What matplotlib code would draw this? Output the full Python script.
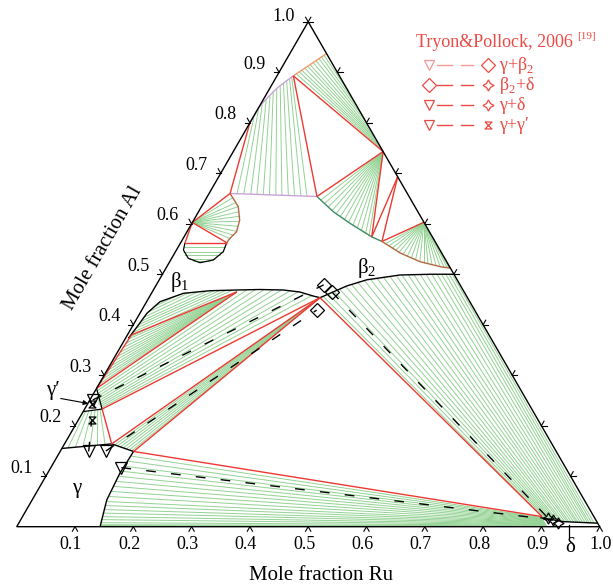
import numpy as np
import matplotlib
matplotlib.use('Agg')
import matplotlib.pyplot as plt

plt.rcParams['font.family'] = ['Liberation Serif', 'DejaVu Serif']
plt.rcParams['mathtext.fontset'] = 'custom'
plt.rcParams['mathtext.rm'] = 'Liberation Serif'

# all compositions as (x_Ru, x_Al)
# --- Al-rich corner
al_purple_curve = [(0.0, 0.800), (0.0, 0.830), (0.005, 0.849), (0.012, 0.868), (0.020, 0.881), (0.028, 0.893)]
al_purple_base = [(0.036, 0.660), (0.188, 0.654)]
al_orange = [(0.028, 0.893), (0.063, 0.937)]
al_tie_top = [(0.001, 0.812), (0.002, 0.825), (0.003, 0.836), (0.005, 0.846), (0.007, 0.855), (0.009, 0.862),
              (0.012, 0.868), (0.015, 0.874), (0.018, 0.879), (0.021, 0.884), (0.024, 0.888), (0.026, 0.891)]
al_tie_bot = [(0.048, 0.660), (0.060, 0.659), (0.072, 0.659), (0.083, 0.658), (0.094, 0.658), (0.105, 0.657),
              (0.116, 0.657), (0.127, 0.656), (0.138, 0.656), (0.149, 0.655), (0.160, 0.655), (0.171, 0.654)]
orange_ties = [(0.031, 0.897), (0.034, 0.901), (0.037, 0.904), (0.040, 0.908), (0.043, 0.912), (0.046, 0.915),
               (0.049, 0.919), (0.052, 0.923), (0.055, 0.927), (0.058, 0.930), (0.060, 0.934)]
edge_ties_al = [0.748, 0.752, 0.757, 0.762, 0.768, 0.775, 0.785, 0.800, 0.815, 0.835, 0.860]

# --- RuAl side, upper part
dkgreen_curve = [(0.188, 0.654), (0.231, 0.624), (0.271, 0.601), (0.322, 0.574), (0.344, 0.565)]
brown_curve = [(0.344, 0.565), (0.387, 0.542), (0.429, 0.525), (0.469, 0.515), (0.488, 0.512)]
fan_a_anchor = (0.257, 0.743)
fan_a_ends = [(0.198, 0.647), (0.208, 0.640), (0.218, 0.633), (0.228, 0.626), (0.238, 0.620), (0.248, 0.614),
              (0.258, 0.608), (0.268, 0.603), (0.278, 0.598), (0.288, 0.593), (0.298, 0.587), (0.308, 0.581),
              (0.316, 0.577)]
fan_b_anchor = (0.397, 0.603)
fan_b_ends = [(0.352, 0.560), (0.360, 0.556), (0.368, 0.551), (0.376, 0.547), (0.384, 0.543), (0.393, 0.539),
              (0.402, 0.535), (0.411, 0.532), (0.420, 0.528), (0.429, 0.525), (0.437, 0.523), (0.445, 0.521),
              (0.453, 0.519), (0.461, 0.517), (0.469, 0.515), (0.476, 0.514), (0.482, 0.513)]
edge_b_al = [0.590, 0.575, 0.560, 0.545, 0.530]

# --- small beta1 blob near 0.6
blob_brown = [(0.036, 0.660), (0.063, 0.634), (0.079, 0.607), (0.085, 0.584), (0.080, 0.571), (0.079, 0.5625)]
blob_black = [(0.0075, 0.5625), (0.012, 0.548), (0.0285, 0.5316), (0.053, 0.5229), (0.073, 0.5282),
              (0.082, 0.5447), (0.079, 0.5625)]
blob_anchor = (0.0, 0.6025)
blob_fan = [(0.045, 0.652), (0.055, 0.642), (0.063, 0.634), (0.070, 0.624), (0.076, 0.615), (0.080, 0.605),
            (0.083, 0.595), (0.085, 0.585), (0.084, 0.577), (0.082, 0.570)]
blob_tie_l = [(0.010, 0.553), (0.013, 0.545), (0.018, 0.538), (0.030, 0.531), (0.040, 0.526)]
blob_tie_r = [(0.081, 0.553), (0.082, 0.545), (0.080, 0.538), (0.074, 0.531), (0.068, 0.526)]

# --- beta boundary (beta1 ... beta2)
beta_curve = [(0.005, 0.373), (0.009, 0.3995), (0.012, 0.4227), (0.023, 0.4456), (0.055, 0.4623), (0.098, 0.4674),
              (0.143, 0.4688), (0.182, 0.4698), (0.223, 0.4688), (0.2535, 0.4648), (0.280, 0.4569),
              (0.2935, 0.4536), (0.306, 0.462), (0.328, 0.477), (0.356, 0.489), (0.408, 0.4985),
              (0.459, 0.500), (0.500, 0.500)]
lens_l = [(0.006, 0.376), (0.007, 0.385), (0.008, 0.393), (0.009, 0.400), (0.010, 0.407), (0.011, 0.415),
          (0.013, 0.425), (0.017, 0.435)]
lens_r = [(0.135, 0.468), (0.125, 0.468), (0.115, 0.468), (0.104, 0.467), (0.092, 0.466), (0.078, 0.465),
          (0.063, 0.463), (0.045, 0.457)]
fan_u_anchor = (0.145, 0.465)
fan_u_ends = [(0.001, 0.283), (0.001, 0.292), (0.002, 0.301), (0.002, 0.310), (0.003, 0.319), (0.003, 0.328),
              (0.004, 0.337), (0.005, 0.346), (0.005, 0.355), (0.006, 0.364), (0.006, 0.372)]
gp_b_l = [(0.003, 0.268), (0.006, 0.262), (0.009, 0.257), (0.012, 0.252), (0.015, 0.248), (0.018, 0.244),
          (0.021, 0.241), (0.024, 0.238), (0.027, 0.235)]
gp_b_r = [(0.160, 0.469), (0.175, 0.470), (0.190, 0.470), (0.205, 0.469), (0.220, 0.469), (0.235, 0.467),
          (0.250, 0.465), (0.265, 0.462), (0.278, 0.458)]

# --- gamma / gamma' corner
gamma_top = [(0.0, 0.155), (0.081, 0.164), (0.126, 0.149)]
gamma_right = [(0.126, 0.149), (0.124, 0.106), (0.128, 0.053), (0.143, 0.0)]
gp_region = [(0.0, 0.228), (0.030, 0.233), (0.0, 0.274)]
ggp_bot = [(0.010, 0.156), (0.022, 0.157), (0.034, 0.159), (0.046, 0.160), (0.058, 0.161), (0.070, 0.163)]
ggp_top = [(0.004, 0.229), (0.009, 0.230), (0.014, 0.230), (0.019, 0.231), (0.023, 0.232), (0.027, 0.232)]
gb_fan = [(0.087, 0.162), (0.093, 0.160), (0.099, 0.158), (0.105, 0.156), (0.111, 0.154), (0.117, 0.152),
          (0.122, 0.150)]

# --- delta corner
delta_curve = [(0.889, 0.018), (0.933, 0.010), (0.993, 0.007)]
bd_start = [(0.298, 0.456), (0.304, 0.461), (0.311, 0.466), (0.318, 0.471), (0.326, 0.476), (0.334, 0.480),
            (0.343, 0.484), (0.352, 0.488), (0.362, 0.490), (0.372, 0.492), (0.382, 0.494), (0.392, 0.496),
            (0.402, 0.498), (0.412, 0.498), (0.422, 0.499), (0.432, 0.499), (0.442, 0.500), (0.452, 0.500),
            (0.462, 0.500), (0.471, 0.500), (0.479, 0.500), (0.486, 0.500), (0.492, 0.500), (0.497, 0.500)]
bd_end = [(0.895, 0.018), (0.899, 0.017), (0.903, 0.016), (0.907, 0.015), (0.911, 0.014), (0.915, 0.013),
          (0.919, 0.012), (0.923, 0.011), (0.927, 0.011), (0.931, 0.010), (0.935, 0.010), (0.939, 0.010),
          (0.943, 0.009), (0.947, 0.009), (0.951, 0.009), (0.955, 0.009), (0.959, 0.008), (0.963, 0.008),
          (0.967, 0.008), (0.971, 0.008), (0.975, 0.008), (0.979, 0.007), (0.983, 0.007), (0.987, 0.007)]
gd_start = [(0.125, 0.140), (0.125, 0.130), (0.124, 0.120), (0.124, 0.110), (0.124, 0.100), (0.125, 0.090),
            (0.126, 0.080), (0.126, 0.070), (0.127, 0.060), (0.128, 0.050), (0.130, 0.042), (0.132, 0.034),
            (0.134, 0.027), (0.136, 0.020), (0.138, 0.014), (0.140, 0.008), (0.141, 0.004), (0.142, 0.002),
            (0.1425, 0.001)]
gd_end = [(0.892, 0.018), (0.893, 0.017), (0.894, 0.016), (0.895, 0.015), (0.896, 0.014), (0.897, 0.013),
          (0.898, 0.012), (0.899, 0.011), (0.900, 0.010), (0.901, 0.009), (0.902, 0.008), (0.903, 0.007),
          (0.904, 0.006), (0.905, 0.005), (0.906, 0.004), (0.907, 0.003), (0.908, 0.002), (0.909, 0.001),
          (0.910, 0.0005)]

# key corners of tie triangles
J = (0.2935, 0.4536)
D = (0.891, 0.020)
G = (0.126, 0.149)
red_segments = [
    [(0.0, 0.800), (0.036, 0.660)], [(0.028, 0.893), (0.188, 0.654)], [(0.028, 0.893), (0.257, 0.743)],
    [(0.257, 0.743), (0.188, 0.654)], [(0.257, 0.743), (0.322, 0.574)], [(0.307, 0.693), (0.322, 0.574)],
    [(0.307, 0.693), (0.344, 0.565)], [(0.397, 0.603), (0.344, 0.565)],
    [(0.0, 0.6025), (0.036, 0.660)], [(0.0, 0.6025), (0.079, 0.5625)], [(0.0, 0.6025), (0.0075, 0.5625)],
    [(0.0075, 0.5625), (0.079, 0.5625)],
    [(0.007, 0.380), (0.145, 0.465)], [(0.0, 0.274), (0.145, 0.465)], [(0.007, 0.380), (0.0, 0.274)],
    [(0.030, 0.233), J], [(0.030, 0.233), (0.081, 0.164)], [(0.081, 0.164), J],
    [G, J], [G, D], [J, D],
]

# Tryon & Pollock measured tie lines
tri_pts = [(0.005, 0.251), (0.078, 0.150), (0.121, 0.117), (0.049, 0.149)]
dia_pts = [(0.287, 0.479), (0.300, 0.429), (0.308, 0.465)]
star_pts = [(0.9035, 0.0166), (0.914, 0.0133), (0.925, 0.0079)]
hg_pts = [(0.008, 0.244), (0.023, 0.211)]
exp_ties = [[(0.005, 0.251), (0.287, 0.479)], [(0.078, 0.150), (0.300, 0.429)],
            [(0.308, 0.465), (0.9035, 0.0166)], [(0.121, 0.117), (0.914, 0.0133)],
            [(0.049, 0.149), (0.023, 0.211)]]

ticks = [0.1, 0.2, 0.3, 0.4, 0.5, 0.6, 0.7, 0.8, 0.9, 1.0]

S3 = np.sqrt(3) / 2
GREEN = '#93d293'
RED = '#ec3a32'


def xy(pts):
    p = np.asarray(pts, dtype=float).reshape(-1, 2)
    return p[:, 0] + p[:, 1] / 2, p[:, 1] * S3


def px(x, y):
    return (x - 16.7) / 583, (526.7 - y) / 583


def line(pts, **kw):
    x, y = xy(pts)
    ax.plot(x, y, solid_capstyle='butt', **kw)


fig = plt.figure(figsize=(6.13, 5.87), dpi=100)
ax = fig.add_axes([0, 0, 1, 1])
ax.set_xlim(-16.7 / 583, (613 - 16.7) / 583)
ax.set_ylim(-(587 - 526.7) / 583, 526.7 / 583)
ax.axis('off')

gkw = dict(color=GREEN, lw=0.7, zorder=1)
for s, e in zip(al_tie_top, al_tie_bot):
    line([s, e], **gkw)
for s, a in zip(orange_ties, edge_ties_al):
    line([s, (1 - a, a)], **gkw)
for e in fan_a_ends:
    line([fan_a_anchor, e], **gkw)
for e in fan_b_ends:
    line([fan_b_anchor, e], **gkw)
for a in edge_b_al:
    line([(1 - a, a), (0.486, 0.5125)], **gkw)
for e in blob_fan:
    line([blob_anchor, e], **gkw)
for s, e in zip(blob_tie_l, blob_tie_r):
    line([s, e], **gkw)
for s, e in zip(lens_l, lens_r):
    line([s, e], **gkw)
for e in fan_u_ends:
    line([fan_u_anchor, e], **gkw)
for s, e in zip(gp_b_l, gp_b_r):
    line([s, e], **gkw)
for s, e in zip(ggp_bot, ggp_top):
    line([s, e], **gkw)
for s in gb_fan:
    line([s, J], **gkw)
for s, e in zip(bd_start, bd_end):
    line([s, e], **gkw)
for s, e in zip(gd_start, gd_end):
    line([s, e], **gkw)

line(al_purple_curve, color='#c9a3d8', lw=1.0, zorder=2)
line(al_purple_base, color='#c9a3d8', lw=1.0, zorder=2)
line(al_orange, color='#f2996a', lw=1.0, zorder=2)
line(dkgreen_curve, color='#3c8c62', lw=1.0, zorder=2)
line(brown_curve, color='#b4683f', lw=1.0, zorder=2)
line(blob_brown, color='#b4683f', lw=1.0, zorder=2)
line(blob_black, color='black', lw=0.9, zorder=2)
line(beta_curve, color='black', lw=1.0, zorder=3)
line(gamma_top, color='black', lw=1.0, zorder=3)
line(gamma_right, color='black', lw=1.0, zorder=3)
line(gp_region, color='black', lw=0.9, zorder=3)
line(delta_curve, color='black', lw=1.0, zorder=3)
for seg in red_segments:
    line(seg, color=RED, lw=1.0, zorder=4)

for seg in exp_ties:
    line(seg, color='black', lw=1.0, dashes=(7, 11), zorder=5)
mk = dict(ls='none', mfc='none', mec='black', mew=0.9, zorder=6)
hourglass = [(-1, 1), (1, 1), (-1, -1), (1, -1), (-1, 1)]
x, y = xy(tri_pts); ax.plot(x, y, marker='v', ms=8, **mk)
x, y = xy(dia_pts); ax.plot(x, y, marker='D', ms=7, **mk)
x, y = xy(star_pts); ax.plot(x, y, marker=(4, 1, 0), ms=8, **mk)
x, y = xy(hg_pts); ax.plot(x, y, marker=hourglass, ms=5, **mk)

# triangle frame and ticks
line([(0, 0), (1, 0), (0, 1), (0, 0)], color='black', lw=1.0, zorder=7)
L = 0.009
ang = np.radians
for v in ticks:
    bx, by = xy([(v, 0)])
    for t in (240, 300):
        ax.plot([bx[0], bx[0] + L * np.cos(ang(t))], [by[0], by[0] + L * np.sin(ang(t))], color='black', lw=0.8)
    ax.annotate(f'{v:.1f}', (bx[0], by[0]), xytext=(-4 if v < 1 else 1, -18), textcoords='offset pixels',
                ha='center', va='center', fontsize=13)
    lx, ly = xy([(0, v)])
    for t in (180, 120):
        ax.plot([lx[0], lx[0] + L * np.cos(ang(t))], [ly[0], ly[0] + L * np.sin(ang(t))], color='black', lw=0.8)
    ax.annotate(f'{v:.1f}', (lx[0], ly[0]), xytext=(-13, 8 if v < 1 else 5), textcoords='offset pixels',
                ha='right', va='center', fontsize=13)
    rx, ry = xy([(1 - v, v)])
    for t in (0, 60):
        ax.plot([rx[0], rx[0] + L * np.cos(ang(t))], [ry[0], ry[0] + L * np.sin(ang(t))], color='black', lw=0.8)

ax.text(*px(321, 575), 'Mole fraction Ru', ha='center', va='center', fontsize=15)
ax.text(*px(103, 248), 'Mole fraction Al', ha='center', va='center', fontsize=15, rotation=60)

ax.text(*px(77, 488), 'γ', ha='center', va='center', fontsize=15)
ax.text(*px(180, 282), r'β$_1$', ha='center', va='center', fontsize=15)
ax.text(*px(367, 268), r'β$_2$', ha='center', va='center', fontsize=15)
ax.text(*px(570, 547), 'δ', ha='center', va='center', fontsize=15)
ax.plot(*zip(px(569.3, 525), px(569.3, 537)), color='black', lw=0.9)
ax.text(*px(53, 391), 'γ\u2032', ha='center', va='center', fontsize=15)
ax.annotate('', xy=px(91, 404), xytext=px(58, 398),
            arrowprops=dict(arrowstyle='-|>', color='black', lw=0.8, mutation_scale=7))

# legend
LRED = '#ec4a44'
ax.text(*px(416, 42), 'Tryon&Pollock, 2006', color=LRED, ha='left', va='center', fontsize=13)
ax.text(*px(577, 36), '[19]', color=LRED, ha='left', va='center', fontsize=8)
rows = [('v', 'D', '#f39a94', r'γ+β$_2$'), ('D', (4, 1, 0), LRED, r'β$_2$+δ'),
        ('v', (4, 1, 0), LRED, 'γ+δ'), ('v', hourglass, LRED, 'γ+γ\u2032')]
for i, (m1, m2, c, lab) in enumerate(rows):
    yy = 65 + 20 * i
    x1, y1 = px(429, yy)
    x2, _ = px(488, yy)
    ax.plot([x1], [y1], marker=m1, ms=7 if m1 == 'D' else 7.5, mfc='none', mec=LRED if m1 == 'D' else c, mew=0.9)
    ax.plot(*zip(px(437, yy), px(452, yy)), color=c, lw=1.0)
    ax.plot(*zip(px(461, yy), px(473, yy)), color=c, lw=1.0)
    ax.plot([x2], [y1], marker=m2, ms=7 if m2 == 'D' else (5 if m2 == hourglass else 8), mfc='none', mec=LRED, mew=0.9)
    ax.text(*px(499, yy), lab, color=LRED, ha='left', va='center', fontsize=13)

fig.savefig('out.png', dpi=100)
